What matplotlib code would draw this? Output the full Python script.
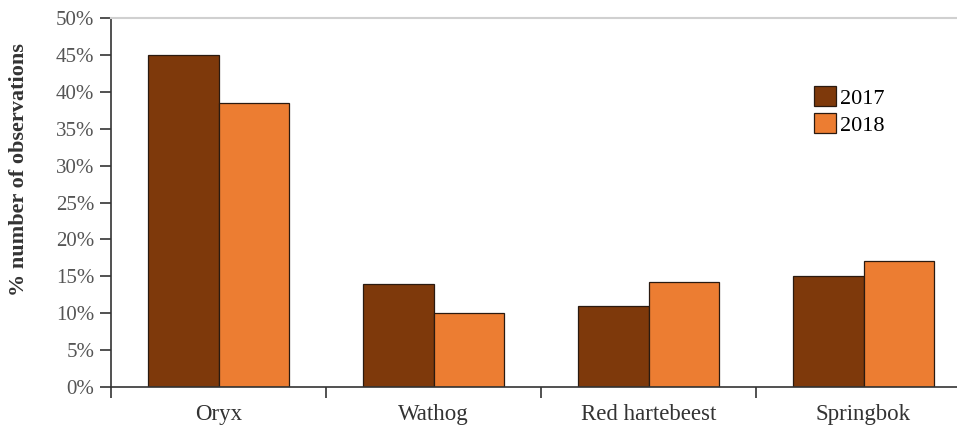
import numpy as np
import matplotlib.pyplot as plt
from matplotlib.ticker import FixedLocator, NullFormatter

plt.rcParams['font.family'] = ['Liberation Serif', 'DejaVu Serif']

categories = ['Oryx', 'Wathog', 'Red hartebeest', 'Springbok']
years = ['2017', '2018']
values_2017 = [45.0, 14.0, 11.0, 15.0]
values_2018 = [38.5, 10.0, 14.2, 17.1]
colors = ['#7e390b', '#ec7d32']

fig = plt.figure(figsize=(9.57, 4.3), dpi=100)
ax = fig.add_axes([0.116, 0.1, 0.884, 0.858])

x = np.arange(len(categories))
w = 0.33
ax.bar(x - w / 2, values_2017, w, color=colors[0], edgecolor='#2a1a10', linewidth=0.9, label=years[0])
ax.bar(x + w / 2, values_2018, w, color=colors[1], edgecolor='#2a1a10', linewidth=0.9, label=years[1])

ax.set_xlim(-0.5, -0.5 + 846 / 215)
ax.set_ylim(0, 50)

ax.set_yticks(np.arange(0, 51, 5))
ax.set_yticklabels([f'{v}%' for v in range(0, 51, 5)], fontsize=15, color='#555555')
ax.tick_params(axis='y', length=8, width=1.2, color='#333333', pad=4)

ax.set_xticks(x)
ax.set_xticklabels(categories, fontsize=16.5, color='#333333')
ax.tick_params(axis='x', which='major', length=0, pad=12)
ax.xaxis.set_minor_locator(FixedLocator(np.arange(len(categories)) - 0.5))
ax.xaxis.set_minor_formatter(NullFormatter())
ax.tick_params(axis='x', which='minor', length=8, width=1.2, color='#333333')

ax.set_ylabel('% number of observations', fontsize=16, fontweight='bold', color='#333333')
ax.yaxis.set_label_coords(-0.097, 0.59)

ax.spines['right'].set_visible(False)
ax.spines['top'].set_color('#d0d0d0')
ax.spines['top'].set_linewidth(1.5)
ax.spines['left'].set_color('#333333')
ax.spines['left'].set_linewidth(1.2)
ax.spines['bottom'].set_color('#333333')
ax.spines['bottom'].set_linewidth(1.2)

ax.legend(loc='upper left', bbox_to_anchor=(0.82, 0.839), frameon=False, fontsize=16,
          handlelength=1.0, handleheight=1.0, handletextpad=0.2, labelspacing=0.2,
          borderaxespad=0)

fig.savefig('out.png', dpi=100)
